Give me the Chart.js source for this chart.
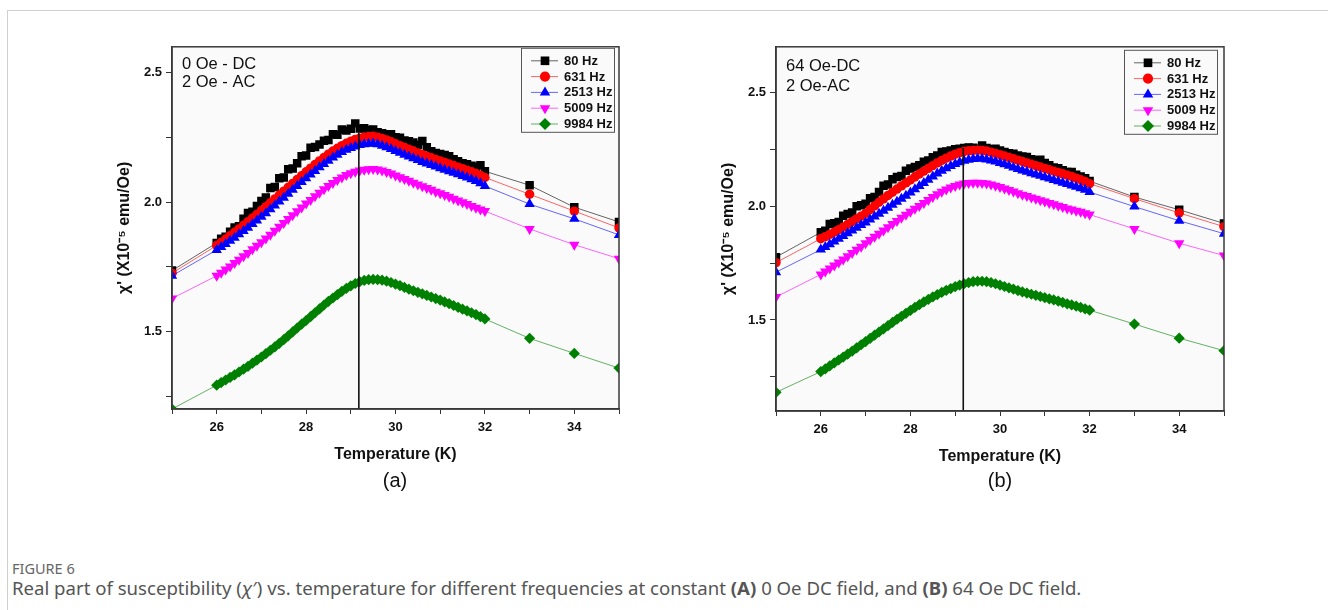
<!DOCTYPE html>
<html>
<head>
<meta charset="utf-8">
<script src="https://cdn.jsdelivr.net/npm/chart.js@4.4.1/dist/chart.umd.min.js"></script>
<style>
    body { margin: 0; background: #fff; width: 1328px; height: 610px; overflow: hidden; position: relative; font-family: Arial, "Liberation Sans", sans-serif; }
    #frame { position: absolute; left: 7px; top: 10px; width: 1340px; height: 700px; border: 1px solid #cfcfcf; }
    canvas { position: absolute; }
    #chartA { left: 100px; top: 35px; }
    #chartB { left: 704px; top: 35px; }
    .tag { position: absolute; top: 469px; width: 60px; text-align: center; font-size: 20px; color: #111; }
    #figLabel { position: absolute; left: 12px; top: 558px; font-family: "Noto Sans", sans-serif; font-size: 14.5px; color: #666; }
    #figText { position: absolute; left: 12px; top: 575px; font-family: "Noto Sans", sans-serif; font-size: 18.6px; color: #555; white-space: nowrap; }
</style>
</head>
<body>
<div id="frame"></div>
<canvas id="chartA" width="540" height="435"></canvas>
<canvas id="chartB" width="541" height="437"></canvas>
<div class="tag" style="left:365px">(a)</div>
<div class="tag" style="left:970px">(b)</div>
<div id="figLabel">FIGURE 6</div>
<div id="figText">Real part of susceptibility (<i>χ</i>′) vs. temperature for different frequencies at constant <b>(A)</b> 0 Oe DC field, and <b>(B)</b> 64 Oe DC field.</div>

<script>
// temperatures (K): one point at 25, dense 26.0-32.0 every 0.1 K, then 33, 34, 35
const tempsK = [25,
    26.0, 26.1, 26.2, 26.3, 26.4, 26.5, 26.6, 26.7, 26.8, 26.9,
    27.0, 27.1, 27.2, 27.3, 27.4, 27.5, 27.6, 27.7, 27.8, 27.9,
    28.0, 28.1, 28.2, 28.3, 28.4, 28.5, 28.6, 28.7, 28.8, 28.9,
    29.0, 29.1, 29.2, 29.3, 29.4, 29.5, 29.6, 29.7, 29.8, 29.9,
    30.0, 30.1, 30.2, 30.3, 30.4, 30.5, 30.6, 30.7, 30.8, 30.9,
    31.0, 31.1, 31.2, 31.3, 31.4, 31.5, 31.6, 31.7, 31.8, 31.9,
    32.0,
    33, 34, 35];

const freqLabels = ['80 Hz', '631 Hz', '2513 Hz', '5009 Hz', '9984 Hz'];

// panel (a): 0 Oe DC, 2 Oe AC
const chiA80 = [1.735,
    1.842, 1.858, 1.866, 1.885, 1.902, 1.906, 1.935, 1.958, 1.962, 1.985,
    2.004, 2.018, 2.054, 2.058, 2.092, 2.095, 2.127, 2.130, 2.150, 2.177,
    2.180, 2.210, 2.213, 2.222, 2.237, 2.240, 2.262, 2.260, 2.280, 2.276,
    2.283, 2.304, 2.284, 2.285, 2.278, 2.280, 2.270, 2.266, 2.262, 2.262,
    2.250, 2.248, 2.238, 2.235, 2.230, 2.220, 2.236, 2.212, 2.196, 2.190,
    2.186, 2.182, 2.177, 2.165, 2.158, 2.150, 2.146, 2.140, 2.135, 2.142,
    2.119,
    2.065, 1.980, 1.923];
const chiA631 = [1.725,
    1.832, 1.844, 1.857, 1.870, 1.883, 1.896, 1.910, 1.924, 1.938, 1.952,
    1.967, 1.982, 1.997, 2.012, 2.027, 2.042, 2.057, 2.072, 2.087, 2.102,
    2.117, 2.131, 2.145, 2.159, 2.172, 2.185, 2.197, 2.208, 2.218, 2.227,
    2.235, 2.242, 2.247, 2.251, 2.253, 2.254, 2.251, 2.246, 2.240, 2.233,
    2.225, 2.218, 2.211, 2.204, 2.197, 2.190, 2.183, 2.177, 2.171, 2.165,
    2.159, 2.153, 2.147, 2.141, 2.135, 2.129, 2.123, 2.117, 2.110, 2.103,
    2.095,
    2.030, 1.965, 1.900];
const chiA2513 = [1.715,
    1.815, 1.826, 1.838, 1.850, 1.862, 1.875, 1.888, 1.901, 1.915, 1.929,
    1.943, 1.957, 1.972, 1.987, 2.002, 2.017, 2.032, 2.047, 2.062, 2.077,
    2.092, 2.106, 2.120, 2.134, 2.147, 2.160, 2.172, 2.183, 2.193, 2.202,
    2.209, 2.215, 2.220, 2.223, 2.225, 2.226, 2.223, 2.218, 2.212, 2.205,
    2.197, 2.190, 2.183, 2.176, 2.169, 2.162, 2.155, 2.149, 2.143, 2.137,
    2.131, 2.125, 2.119, 2.113, 2.107, 2.101, 2.095, 2.088, 2.081, 2.073,
    2.062,
    1.992, 1.935, 1.873];
const chiA5009 = [1.627,
    1.715, 1.727, 1.739, 1.751, 1.764, 1.777, 1.790, 1.803, 1.817, 1.831,
    1.845, 1.859, 1.874, 1.889, 1.904, 1.919, 1.934, 1.949, 1.964, 1.979,
    1.994, 2.008, 2.022, 2.036, 2.049, 2.062, 2.074, 2.085, 2.095, 2.104,
    2.111, 2.117, 2.122, 2.125, 2.127, 2.128, 2.126, 2.122, 2.116, 2.110,
    2.103, 2.096, 2.089, 2.082, 2.075, 2.068, 2.061, 2.054, 2.047, 2.040,
    2.034, 2.027, 2.020, 2.013, 2.006, 1.999, 1.992, 1.985, 1.978, 1.971,
    1.965,
    1.896, 1.835, 1.781];
const chiA9984 = [1.200,
    1.292, 1.302, 1.312, 1.322, 1.332, 1.343, 1.354, 1.365, 1.377, 1.389,
    1.401, 1.414, 1.427, 1.440, 1.454, 1.468, 1.483, 1.498, 1.513, 1.528,
    1.542, 1.557, 1.572, 1.587, 1.602, 1.616, 1.629, 1.642, 1.655, 1.666,
    1.676, 1.685, 1.692, 1.697, 1.700, 1.701, 1.700, 1.698, 1.694, 1.689,
    1.683, 1.677, 1.670, 1.663, 1.657, 1.651, 1.645, 1.639, 1.633, 1.627,
    1.621, 1.614, 1.607, 1.600, 1.593, 1.586, 1.579, 1.572, 1.565, 1.557,
    1.548,
    1.473, 1.415, 1.358];

// panel (b): 64 Oe DC, 2 Oe AC
const chiB80 = [1.776,
    1.885, 1.892, 1.922, 1.925, 1.930, 1.958, 1.966, 1.972, 2.000, 2.004,
    2.010, 2.035, 2.040, 2.062, 2.090, 2.095, 2.118, 2.128, 2.132, 2.155,
    2.165, 2.172, 2.180, 2.195, 2.200, 2.215, 2.222, 2.238, 2.240, 2.245,
    2.250, 2.252, 2.255, 2.258, 2.256, 2.252, 2.266, 2.255, 2.250, 2.252,
    2.244, 2.238, 2.232, 2.230, 2.222, 2.218, 2.216, 2.206, 2.200, 2.204,
    2.190, 2.180, 2.170, 2.166, 2.158, 2.150, 2.150, 2.138, 2.130, 2.122,
    2.110,
    2.040, 1.984, 1.924];
const chiB631 = [1.752,
    1.857, 1.866, 1.876, 1.886, 1.897, 1.908, 1.920, 1.932, 1.944, 1.956,
    1.968, 1.985, 2.001, 2.017, 2.032, 2.047, 2.061, 2.075, 2.089, 2.102,
    2.115, 2.128, 2.141, 2.154, 2.166, 2.178, 2.190, 2.201, 2.211, 2.220,
    2.228, 2.235, 2.240, 2.243, 2.245, 2.246, 2.245, 2.242, 2.237, 2.232,
    2.226, 2.220, 2.214, 2.208, 2.202, 2.196, 2.190, 2.184, 2.178, 2.172,
    2.166, 2.160, 2.154, 2.148, 2.142, 2.136, 2.130, 2.123, 2.116, 2.108,
    2.099,
    2.033, 1.970, 1.910];
const chiB2513 = [1.710,
    1.809, 1.821, 1.833, 1.845, 1.857, 1.869, 1.881, 1.893, 1.905, 1.917,
    1.928, 1.941, 1.954, 1.967, 1.980, 1.993, 2.006, 2.019, 2.032, 2.046,
    2.060, 2.074, 2.088, 2.102, 2.116, 2.130, 2.143, 2.155, 2.166, 2.176,
    2.185, 2.193, 2.199, 2.204, 2.207, 2.209, 2.208, 2.205, 2.201, 2.196,
    2.190, 2.184, 2.177, 2.170, 2.163, 2.157, 2.151, 2.145, 2.139, 2.133,
    2.127, 2.121, 2.115, 2.109, 2.103, 2.097, 2.091, 2.085, 2.079, 2.072,
    2.062,
    1.998, 1.936, 1.879];
const chiB5009 = [1.601,
    1.700, 1.713, 1.726, 1.739, 1.752, 1.766, 1.780, 1.794, 1.808, 1.822,
    1.837, 1.851, 1.865, 1.879, 1.893, 1.907, 1.921, 1.935, 1.949, 1.962,
    1.975, 1.988, 2.001, 2.014, 2.027, 2.040, 2.052, 2.063, 2.073, 2.082,
    2.089, 2.095, 2.099, 2.102, 2.103, 2.103, 2.102, 2.099, 2.095, 2.090,
    2.084, 2.078, 2.071, 2.064, 2.057, 2.050, 2.044, 2.038, 2.032, 2.026,
    2.020, 2.014, 2.008, 2.002, 1.996, 1.990, 1.985, 1.980, 1.975, 1.969,
    1.963,
    1.900, 1.837, 1.783];
const chiB9984 = [1.182,
    1.273, 1.285, 1.298, 1.311, 1.324, 1.337, 1.350, 1.363, 1.377, 1.391,
    1.405, 1.419, 1.433, 1.447, 1.461, 1.475, 1.489, 1.503, 1.516, 1.529,
    1.542, 1.555, 1.567, 1.579, 1.590, 1.601, 1.611, 1.621, 1.630, 1.638,
    1.646, 1.653, 1.659, 1.664, 1.668, 1.670, 1.670, 1.668, 1.664, 1.659,
    1.653, 1.647, 1.641, 1.635, 1.629, 1.623, 1.618, 1.613, 1.608, 1.603,
    1.598, 1.593, 1.588, 1.583, 1.577, 1.571, 1.566, 1.561, 1.555, 1.549,
    1.543,
    1.482, 1.420, 1.365];

// peak temperature marker and axis ticks
const peakT = 29.18;
const xTickValues = [25, 26, 27, 28, 29, 30, 31, 32, 33, 34, 35];
const xTickLabels = [26, 28, 30, 32, 34];
const yTickValues = [1.25, 1.5, 1.75, 2.0, 2.25, 2.5];
const yTickLabels = [1.5, 2.0, 2.5];

const notesA = ['0 Oe - DC', '2 Oe - AC'];
const notesB = ['64 Oe-DC', '2 Oe-AC'];

const FONT = 'Arial, "Liberation Sans", sans-serif';

const seriesStyle = [
    { color: '#000000', line: 'rgba(0,0,0,0.6)',      shape: 'rect',     rotation: 0,   radius: 6.0 },
    { color: '#ff0000', line: 'rgba(255,0,0,0.6)',    shape: 'circle',   rotation: 0,   radius: 4.7 },
    { color: '#0000ff', line: 'rgba(0,0,255,0.6)',    shape: 'triangle', rotation: 0,   radius: 6.0 },
    { color: '#ff00ff', line: 'rgba(255,0,255,0.6)',  shape: 'triangle', rotation: 180, radius: 6.0 },
    { color: '#008000', line: 'rgba(0,128,0,0.6)',    shape: 'rectRot',  rotation: 0,   radius: 5.6 }
];

function drawMarker(ctx, style, x, y, r) {
    ctx.fillStyle = style.color;
    ctx.beginPath();
    if (style.shape === 'rect') {
        ctx.rect(x - r * 0.72, y - r * 0.72, r * 1.44, r * 1.44);
    } else if (style.shape === 'circle') {
        ctx.arc(x, y, r * 0.85, 0, Math.PI * 2);
    } else if (style.shape === 'triangle') {
        const s = style.rotation ? -1 : 1;
        ctx.moveTo(x, y - s * r);
        ctx.lineTo(x + r * 0.87, y + s * r * 0.5);
        ctx.lineTo(x - r * 0.87, y + s * r * 0.5);
        ctx.closePath();
    } else {
        ctx.moveTo(x, y - r);
        ctx.lineTo(x + r, y);
        ctx.lineTo(x, y + r);
        ctx.lineTo(x - r, y);
        ctx.closePath();
    }
    ctx.fill();
}

// plot background, frame, inset legend and field notes
const panelDecor = {
    id: 'panelDecor',
    beforeDraw(chart) {
        const a = chart.chartArea;
        const ctx = chart.ctx;
        ctx.save();
        ctx.fillStyle = '#fafafa';
        ctx.fillRect(a.left, a.top, a.right - a.left, a.bottom - a.top);
        ctx.restore();
    },
    afterDraw(chart, args, opts) {
        const a = chart.chartArea;
        const ctx = chart.ctx;
        ctx.save();
        ctx.strokeStyle = '#3a3a3a';
        ctx.lineWidth = 1.5;
        ctx.strokeRect(a.left, a.top, a.right - a.left, a.bottom - a.top);

        // legend box
        const bw = 93, bh = 84;
        const bx = a.right - opts.legendRight - bw;
        const by = a.top + opts.legendTop;
        ctx.fillStyle = '#fafafa';
        ctx.fillRect(bx, by, bw, bh);
        ctx.strokeStyle = '#555';
        ctx.lineWidth = 1;
        ctx.strokeRect(bx + 0.5, by + 0.5, bw, bh);
        ctx.font = 'bold 13px ' + FONT;
        ctx.textBaseline = 'middle';
        freqLabels.forEach((label, i) => {
            const y = by + 13 + i * 15.8;
            const st = seriesStyle[i];
            ctx.strokeStyle = st.line;
            ctx.lineWidth = 1;
            ctx.beginPath();
            ctx.moveTo(bx + 10, y);
            ctx.lineTo(bx + 37, y);
            ctx.stroke();
            drawMarker(ctx, st, bx + 24, y, 6);
            ctx.fillStyle = '#111';
            ctx.fillText(label, bx + 43, y + 0.5);
        });

        // field notes
        ctx.font = '16.5px ' + FONT;
        ctx.fillStyle = '#111';
        opts.notes.forEach((t, i) => {
            ctx.fillText(t, a.left + 10, a.top + opts.noteTop + i * opts.noteGap);
        });
        ctx.restore();
    }
};

function buildChart(canvas, series, cfg) {
    const datasets = series.map((values, i) => ({
        label: freqLabels[i],
        data: tempsK.map((t, j) => ({ x: t, y: values[j] })),
        borderColor: seriesStyle[i].line,
        borderWidth: 1,
        pointStyle: seriesStyle[i].shape,
        pointRotation: seriesStyle[i].rotation,
        pointRadius: seriesStyle[i].radius,
        pointBackgroundColor: seriesStyle[i].color,
        pointBorderColor: seriesStyle[i].color,
        pointBorderWidth: 0,
        order: 5 - i
    }));
    datasets.push({
        label: '',
        data: [{ x: peakT, y: cfg.yMin }, { x: peakT, y: cfg.peakTop }],
        borderColor: '#111',
        borderWidth: 1.6,
        pointRadius: 0,
        order: -1
    });

    return new Chart(canvas, {
        type: 'line',
        data: { datasets },
        plugins: [panelDecor],
        options: {
            responsive: false,
            animation: false,
            devicePixelRatio: 1,
            layout: { padding: { top: 10, right: 21, bottom: 0, left: 0 } },
            plugins: {
                legend: { display: false },
                tooltip: { enabled: false },
                panelDecor: cfg.decor
            },
            scales: {
                x: {
                    type: 'linear',
                    min: 25,
                    max: 35,
                    afterBuildTicks: (scale) => { scale.ticks = xTickValues.map(v => ({ value: v })); },
                    afterFit: (scale) => { scale.height = 61; },
                    ticks: {
                        autoSkip: false,
                        maxRotation: 0,
                        padding: 6,
                        color: '#111',
                        font: { family: FONT, size: 13, weight: 'bold' },
                        callback: (v) => xTickLabels.includes(v) ? String(v) : ''
                    },
                    grid: { drawOnChartArea: false, tickLength: 5, tickColor: '#333', tickWidth: 1 },
                    border: { color: '#333', width: 1.5 },
                    title: {
                        display: true,
                        text: 'Temperature (K)',
                        color: '#111',
                        font: { family: FONT, size: 16, weight: 'bold' },
                        padding: { top: 0, bottom: 6 }
                    }
                },
                y: {
                    min: cfg.yMin,
                    max: cfg.yMax,
                    afterBuildTicks: (scale) => { scale.ticks = yTickValues.map(v => ({ value: v })); },
                    afterFit: (scale) => { scale.width = 72; },
                    ticks: {
                        autoSkip: false,
                        padding: 4,
                        color: '#111',
                        font: { family: FONT, size: 13, weight: 'bold' },
                        callback: (v) => yTickLabels.includes(v) ? v.toFixed(1) : ''
                    },
                    grid: { drawOnChartArea: false, tickLength: 6, tickColor: '#333', tickWidth: 1 },
                    border: { color: '#333', width: 1.5 },
                    title: {
                        display: true,
                        text: "χ' (X10⁻⁵ emu/Oe)",
                        color: '#111',
                        font: { family: FONT, size: 16, weight: 'bold' },
                        padding: { top: 15, bottom: 0 }
                    }
                }
            }
        }
    });
}

document.addEventListener('DOMContentLoaded', () => {
    buildChart(document.getElementById('chartA'),
        [chiA80, chiA631, chiA2513, chiA5009, chiA9984],
        { yMin: 1.2, yMax: 2.6, peakTop: 2.27,
          decor: { legendRight: 5, legendTop: 1, notes: notesA, noteTop: 18, noteGap: 18 } });

    buildChart(document.getElementById('chartB'),
        [chiB80, chiB631, chiB2513, chiB5009, chiB9984],
        { yMin: 1.1, yMax: 2.7, peakTop: 2.255,
          decor: { legendRight: 7, legendTop: 3, notes: notesB, noteTop: 20, noteGap: 20 } });
});
</script>
</body>
</html>
